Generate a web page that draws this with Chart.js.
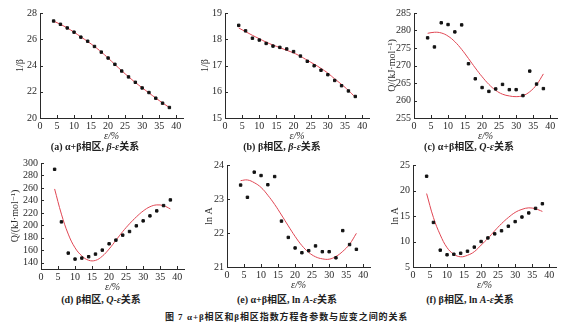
<!DOCTYPE html>
<html>
<head>
<meta charset="utf-8">
<script src="https://cdn.jsdelivr.net/npm/chart.js@4.4.0/dist/chart.umd.min.js"></script>
<style>
body { margin:0; background:#fff; width:569px; height:324px; position:relative; overflow:hidden;
       font-family:"Liberation Serif","Noto Sans CJK SC",serif; color:#222; }
canvas { position:absolute; }
.cap { position:absolute; width:190px; text-align:center; font-size:10px; font-weight:bold; white-space:nowrap; line-height:12px; }
.main { position:absolute; top:312px; font-size:9px; font-weight:bold; white-space:nowrap; line-height:11px; letter-spacing:0.9px; }
</style>
</head>
<body>
<canvas id="pa"></canvas>
<canvas id="pb"></canvas>
<canvas id="pc"></canvas>
<canvas id="pd"></canvas>
<canvas id="pe"></canvas>
<canvas id="pf"></canvas>

<div class="cap" style="left:0;top:141px">(a) α+β相区, <i>β</i>-<i>ε</i>关系</div>
<div class="cap" style="left:187px;top:141px">(b) β相区, <i>β</i>-<i>ε</i>关系</div>
<div class="cap" style="left:374px;top:141px">(c) α+β相区, <i>Q</i>-<i>ε</i>关系</div>
<div class="cap" style="left:6px;top:294px">(d) β相区, <i>Q</i>-<i>ε</i>关系</div>
<div class="cap" style="left:192px;top:294px">(e) α+β相区, ln <i>A</i>-<i>ε</i>关系</div>
<div class="cap" style="left:375px;top:294px">(f) β相区, ln <i>A</i>-<i>ε</i>关系</div>
<div class="main" style="left:165px">图 7</div>
<div class="main" style="left:187px">α+β相区和β相区指数方程各参数与应变之间的关系</div>

<script>
// strain values (%), same for every panel
const strain = [4, 6, 8, 10, 12, 14, 16, 18, 20, 22, 24, 26, 28, 30, 32, 34, 36, 38];
const xTicks = [0, 5, 10, 15, 20, 25, 30, 35, 40];

// (a) alpha+beta, 1/beta
const betaAB    = [27.39, 27.14, 26.86, 26.54, 26.16, 25.85, 25.45, 25.02, 24.57, 24.09, 23.58, 23.13, 22.72, 22.29, 21.94, 21.51, 21.13, 20.80];
const betaABFit = [27.38, 27.14, 26.86, 26.54, 26.18, 25.83, 25.45, 25.03, 24.57, 24.08, 23.60, 23.14, 22.71, 22.30, 21.91, 21.52, 21.15, 20.80];
// (b) beta, 1/beta
const betaB     = [18.53, 18.32, 18.04, 17.97, 17.84, 17.74, 17.69, 17.63, 17.53, 17.36, 17.16, 16.99, 16.82, 16.65, 16.43, 16.23, 16.03, 15.82];
const betaBFit  = [18.43, 18.29, 18.15, 18.02, 17.89, 17.78, 17.68, 17.58, 17.48, 17.35, 17.20, 17.05, 16.89, 16.71, 16.49, 16.28, 16.05, 15.79];
// (c) alpha+beta, Q
const qAB       = [277.9, 275.3, 282.2, 281.7, 279.6, 281.6, 270.5, 266.2, 263.7, 262.6, 263.3, 264.6, 263.1, 263.1, 261.4, 268.4, 264.7, 263.4];
const qABFit    = [279.2, 279.5, 279.3, 278.4, 276.8, 274.6, 272.0, 269.3, 266.8, 264.6, 262.9, 261.8, 261.3, 261.1, 261.4, 262.5, 264.5, 267.6];
// (d) beta, Q
const qB        = [289.9, 205.6, 155.5, 145.9, 147.5, 149.7, 153.9, 160.3, 170.4, 176.3, 184.3, 190.1, 199.2, 207.2, 215.2, 223.2, 231.7, 240.8];
const qBFit     = [258.4, 218.0, 186.0, 164.0, 151.0, 144.0, 143.8, 150.5, 162.0, 176.0, 190.0, 202.5, 213.5, 223.0, 229.8, 232.8, 231.5, 226.4];
// (e) alpha+beta, ln A
const lnAAB     = [23.41, 23.05, 23.79, 23.69, 23.42, 23.66, 22.35, 21.87, 21.56, 21.42, 21.48, 21.62, 21.45, 21.45, 21.27, 22.07, 21.66, 21.52];
const lnAABFit  = [23.54, 23.56, 23.48, 23.34, 23.11, 22.84, 22.53, 22.21, 21.90, 21.63, 21.43, 21.30, 21.24, 21.23, 21.31, 21.46, 21.67, 21.99];
// (f) beta, ln A
const lnAB      = [22.8, 13.74, 8.3, 7.4, 7.5, 7.7, 8.1, 8.9, 10.0, 10.7, 11.5, 12.1, 13.0, 13.9, 14.8, 15.6, 16.5, 17.4];
const lnABFit   = [19.4, 14.7, 11.3, 8.8, 7.5, 7.0, 7.3, 8.0, 9.3, 10.6, 12.1, 13.5, 14.7, 15.7, 16.3, 16.6, 16.4, 15.9];

const serif = '"Liberation Serif", "DejaVu Serif", serif';
const ink = '#2a2a2a';

// ticks in the original point inwards, so draw them by hand
const innerTicks = {
  id: 'innerTicks',
  afterDraw(chart) {
    const { ctx, chartArea: a, scales: { x, y } } = chart;
    ctx.save();
    ctx.strokeStyle = ink;
    ctx.lineWidth = 1;
    ctx.beginPath();
    x.ticks.forEach(t => {
      const px = Math.round(x.getPixelForValue(t.value)) + 0.5;
      ctx.moveTo(px, a.bottom);
      ctx.lineTo(px, a.bottom - 3);
    });
    y.ticks.forEach(t => {
      const py = Math.round(y.getPixelForValue(t.value)) + 0.5;
      ctx.moveTo(a.left, py);
      ctx.lineTo(a.left + 3, py);
    });
    ctx.stroke();
    ctx.restore();
  }
};

function panel(id, geo, vals, fit, yMin, yMax, yTicks, yTitle, titleOff) {
  const YW = 34, XH = 24, TOP = 8, RIGHT = 6;
  const [left, top, w, h] = geo;
  const cv = document.getElementById(id);
  cv.width = YW + w + RIGHT;
  cv.height = TOP + h + XH;
  cv.style.left = (left - YW) + 'px';
  cv.style.top = (top - TOP) + 'px';

  const tickOpts = { color: ink, font: { family: serif, size: 10 }, autoSkip: false, maxRotation: 0, minRotation: 0 };

  new Chart(cv, {
    type: 'scatter',
    data: {
      datasets: [
        {
          data: strain.map((s, i) => ({ x: s, y: vals[i] })),
          backgroundColor: '#111',
          borderColor: '#111',
          pointStyle: 'rect',
          pointRadius: 1.7,
          order: 0
        },
        {
          data: strain.map((s, i) => ({ x: s, y: fit[i] })),
          showLine: true,
          borderColor: '#e04653',
          borderWidth: 1,
          pointRadius: 0,
          tension: 0.4,
          order: 1
        }
      ]
    },
    options: {
      responsive: false,
      animation: false,
      layout: { padding: { left: 0, top: TOP, right: RIGHT, bottom: 0 } },
      plugins: { legend: { display: false }, tooltip: { enabled: false } },
      scales: {
        x: {
          min: 0, max: 42,
          afterBuildTicks: s => { s.ticks = xTicks.map(v => ({ value: v })); },
          afterFit: s => { s.height = XH; },
          grid: { display: false, drawTicks: false },
          border: { display: true, color: ink, width: 1 },
          ticks: { ...tickOpts, padding: 2 },
          title: { display: true, text: 'ε/%', color: ink, padding: 0,
                   font: { family: serif, size: 10, style: 'italic' } }
        },
        y: {
          min: yMin, max: yMax,
          afterBuildTicks: s => { s.ticks = yTicks.map(v => ({ value: v })); },
          afterFit: s => { s.width = YW; },
          grid: { display: false, drawTicks: false },
          border: { display: true, color: ink, width: 1 },
          ticks: { ...tickOpts, padding: 3 },
          title: { display: true, text: yTitle, color: ink,
                   padding: { top: YW - titleOff - 6, bottom: 0 },
                   font: { family: serif, size: 10 } }
        }
      }
    },
    plugins: [innerTicks]
  });
}

panel('pa', [40, 12, 143, 106], betaAB, betaABFit, 20, 28, [20, 22, 24, 26, 28], '1/β', 20);
panel('pb', [225, 12, 144, 106], betaB, betaBFit, 15, 19, [15, 16, 17, 18, 19], '1/β', 20);
panel('pc', [414, 12, 143, 106], qAB, qABFit, 255, 285, [255, 260, 265, 270, 275, 280, 285], 'Q/(kJ·mol⁻¹)', 22);
panel('pd', [41, 162, 143, 107], qB, qBFit, 130, 300, [140, 160, 180, 200, 220, 240, 260, 280, 300], 'Q/(kJ·mol⁻¹)', 26);
panel('pe', [227, 164, 143, 103], lnAAB, lnAABFit, 21, 24, [21, 22, 23, 24], 'ln A', 18);
panel('pf', [413, 164, 143, 103], lnAB, lnABFit, 5, 25, [5, 10, 15, 20, 25], 'ln A', 18);
</script>
</body>
</html>
